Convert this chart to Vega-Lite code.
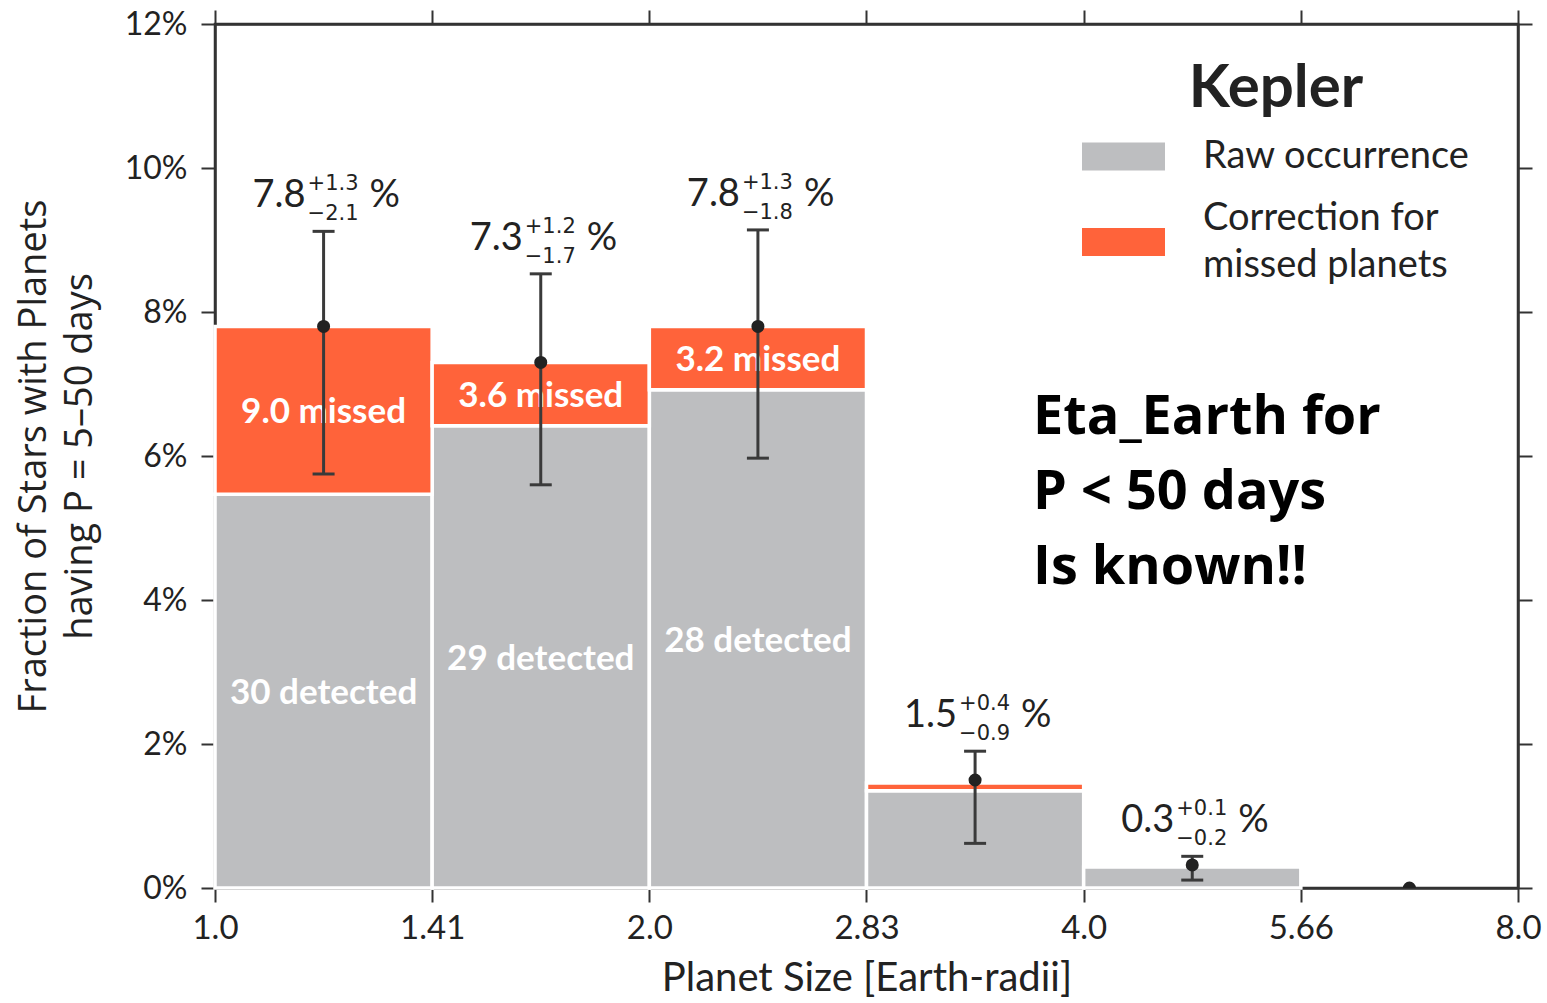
{
  "$schema": "https://vega.github.io/schema/vega-lite/v6.json",
  "width": 1303,
  "height": 864,
  "autosize": {"type": "none"},
  "padding": {"left": 215, "top": 24, "right": 29, "bottom": 115},
  "background": "white",
  "config": {
    "view": {"stroke": "#333333", "strokeWidth": 2.5},
    "font": "Lato",
    "style": {"guide-label": {"lineHeight": 47}},
    "legend": {
      "orient": "none", "legendX": 867, "legendY": 36, "padding": 0,
      "titleFontSize": 60, "titleFontWeight": "bold", "titleFont": "Lato",
      "titleColor": "#222222", "titleAnchor": "middle", "titlePadding": -5,
      "symbolSize": 6889, "symbolStrokeWidth": 0, "symbolOpacity": 1,
      "labelFontSize": 38, "labelFont": "Lato", "labelColor": "#222222", "labelOffset": 38,
      "labelLimit": 0, "labelBaseline": "middle", "rowPadding": 1
    },
    "axis": {
      "domainColor": "#333333", "domainWidth": 2.5,
      "tickColor": "#333333", "tickWidth": 2, "tickSize": 14,
      "labelColor": "#222222", "labelFontSize": 32, "labelFont": "Lato",
      "titleColor": "#222222", "titleFontWeight": "normal",
      "grid": false, "zindex": 1
    }
  },
  "datasets": {
    "bins": [
      {"lo": 1.0, "hi": 1.41421356, "c": 1.18920712, "raw": 5.47, "total": 7.8, "detected": "30 detected", "missed": "9.0 missed"},
      {"lo": 1.41421356, "hi": 2.0, "c": 1.68179283, "raw": 6.42, "total": 7.3, "detected": "29 detected", "missed": "3.6 missed"},
      {"lo": 2.0, "hi": 2.82842712, "c": 2.37841423, "raw": 6.92, "total": 7.8, "detected": "28 detected", "missed": "3.2 missed"},
      {"lo": 2.82842712, "hi": 4.0, "c": 3.36358566, "raw": 1.35, "total": 1.46, "detected": "", "missed": ""},
      {"lo": 4.0, "hi": 5.65685425, "c": 4.75682846, "raw": 0.29, "total": 0.29, "detected": "", "missed": ""},
      {"lo": 5.65685425, "hi": 8.0, "c": 6.72717132, "raw": 0, "total": 0, "detected": "", "missed": ""}
    ],
    "est": [
      {"c": 1.18920712, "val": 7.8, "elo": 5.75, "ehi": 9.12, "main": "7.8", "plus": "+1.3", "minus": "−2.1"},
      {"c": 1.68179283, "val": 7.3, "elo": 5.6, "ehi": 8.53, "main": "7.3", "plus": "+1.2", "minus": "−1.7"},
      {"c": 2.37841423, "val": 7.8, "elo": 5.97, "ehi": 9.14, "main": "7.8", "plus": "+1.3", "minus": "−1.8"},
      {"c": 3.36358566, "val": 1.5, "elo": 0.62, "ehi": 1.9, "main": "1.5", "plus": "+0.4", "minus": "−0.9"},
      {"c": 4.75682846, "val": 0.32, "elo": 0.11, "ehi": 0.44, "main": "0.3", "plus": "+0.1", "minus": "−0.2"},
      {"c": 6.72717132, "val": 0.0, "elo": null, "ehi": null, "main": "", "plus": "", "minus": ""}
    ],
    "legendItems": [
      {"comp": "Raw occurrence"},
      {"comp": "Correction for missed planets"}
    ]
  },
  "resolve": {"axis": {"x": "independent", "y": "independent"}},
  "layer": [
    {
      "layer": [
        {
          "data": {"name": "bins"},
          "transform": [{"filter": "datum.raw > 0"}],
          "mark": {"type": "bar", "stroke": "white", "strokeWidth": 3.5, "opacity": 1},
          "encoding": {
            "x": {"field": "lo", "type": "quantitative",
                  "scale": {"type": "log", "base": 2, "domain": [1, 8], "nice": false},
                  "axis": {"orient": "bottom", "values": [1, 1.41421356, 2, 2.82842712, 4, 5.65685425, 8],
                           "labelExpr": "datum.value < 1.2 ? '1.0' : datum.value < 1.7 ? '1.41' : datum.value < 2.4 ? '2.0' : datum.value < 3.4 ? '2.83' : datum.value < 4.8 ? '4.0' : datum.value < 6.8 ? '5.66' : '8.0'",
                           "labelFlush": false, "labelOverlap": false, "labelPadding": 10, "labelFontSize": 33,
                           "title": "Planet Size [Earth-radii]", "titleFontSize": 40, "titleFont": "Lato", "titlePadding": 13}},
            "x2": {"field": "hi"},
            "y": {"field": "raw", "type": "quantitative",
                  "scale": {"domain": [0, 12], "nice": false, "zero": true},
                  "axis": {"orient": "left", "values": [0, 2, 4, 6, 8, 10, 12],
                           "labelExpr": "datum.value + '%'", "labelPadding": 14,
                           "title": ["Fraction of Stars with Planets", "having P = 5–50 days"],
                           "titleFont": "Open Sans", "titleFontSize": 38, "titleLineHeight": 46,
                           "titleAngle": -90, "titleBaseline": "alphabetic", "titleAlign": "center",
                           "titleX": -170, "titleY": 432}},
            "y2": {"datum": 0},
            "color": {"datum": "Raw occurrence", "type": "nominal",
                      "scale": {"domain": ["Raw occurrence", "Correction for missed planets"], "range": ["#bdbec0", "#ff633a"]},
                      "legend": {"title": "Kepler",
                        "labelExpr": "datum.label == 'Correction for missed planets' ? ['Correction for', 'missed planets'] : datum.label"}}
          }
        },
        {
          "data": {"name": "bins"},
          "transform": [{"filter": "datum.total > datum.raw"}],
          "mark": {"type": "bar", "stroke": "white", "strokeWidth": 3.5, "opacity": 1},
          "encoding": {
            "x": {"field": "lo", "type": "quantitative"},
            "x2": {"field": "hi"},
            "y": {"field": "raw", "type": "quantitative"},
            "y2": {"field": "total"},
            "color": {"datum": "Correction for missed planets", "type": "nominal"}
          }
        },
        {
          "data": {"name": "legendItems"},
          "mark": {"type": "point", "filled": true, "opacity": 1, "size": 6889, "clip": true, "strokeWidth": 0},
          "encoding": {
            "x": {"datum": 2, "type": "quantitative"},
            "y": {"datum": -6, "type": "quantitative"},
            "color": {"field": "comp", "type": "nominal",
                      "legend": {"title": "Kepler",
                        "labelExpr": "datum.label == 'Correction for missed planets' ? ['Correction for', 'missed planets'] : datum.label"}},
            "shape": {"field": "comp", "type": "nominal",
                      "scale": {"domain": ["Raw occurrence", "Correction for missed planets"],
                                "range": ["M-1,-0.337L1,-0.337L1,0.337L-1,0.337Z", "M-1,0.229L1,0.229L1,0.903L-1,0.903Z"]},
                      "legend": {"title": "Kepler",
                        "labelExpr": "datum.label == 'Correction for missed planets' ? ['Correction for', 'missed planets'] : datum.label"}}
          }
        },
        {
          "data": {"name": "bins"},
          "transform": [{"filter": "datum.missed != ''"}, {"calculate": "(datum.raw + datum.total) / 2", "as": "mmid"}],
          "mark": {"type": "text", "font": "Lato", "fontWeight": "bold", "fontSize": 35, "color": "white", "baseline": "middle", "align": "center", "dy": 2},
          "encoding": {
            "x": {"field": "c", "type": "quantitative"},
            "y": {"field": "mmid", "type": "quantitative"},
            "text": {"field": "missed"}
          }
        },
        {
          "data": {"name": "bins"},
          "transform": [{"filter": "datum.detected != ''"}, {"calculate": "datum.raw / 2", "as": "dmid"}],
          "mark": {"type": "text", "font": "Lato", "fontWeight": "bold", "fontSize": 35, "color": "white", "baseline": "middle", "align": "center", "dy": 2},
          "encoding": {
            "x": {"field": "c", "type": "quantitative"},
            "y": {"field": "dmid", "type": "quantitative"},
            "text": {"field": "detected"}
          }
        },
        {
          "data": {"name": "est"},
          "transform": [{"filter": "datum.ehi != null"}],
          "mark": {"type": "rule", "color": "#3a3a3a", "strokeWidth": 3},
          "encoding": {
            "x": {"field": "c", "type": "quantitative"},
            "y": {"field": "elo", "type": "quantitative"},
            "y2": {"field": "ehi"}
          }
        },
        {
          "data": {"name": "est"},
          "transform": [{"filter": "datum.ehi != null"}],
          "mark": {"type": "tick", "orient": "horizontal", "color": "#3a3a3a", "size": 22, "thickness": 3, "opacity": 1},
          "encoding": {
            "x": {"field": "c", "type": "quantitative"},
            "y": {"field": "elo", "type": "quantitative"}
          }
        },
        {
          "data": {"name": "est"},
          "transform": [{"filter": "datum.ehi != null"}],
          "mark": {"type": "tick", "orient": "horizontal", "color": "#3a3a3a", "size": 22, "thickness": 3, "opacity": 1},
          "encoding": {
            "x": {"field": "c", "type": "quantitative"},
            "y": {"field": "ehi", "type": "quantitative"}
          }
        },
        {
          "data": {"name": "est"},
          "mark": {"type": "circle", "color": "#222222", "size": 170, "opacity": 1, "clip": true},
          "encoding": {
            "x": {"field": "c", "type": "quantitative"},
            "y": {"field": "val", "type": "quantitative"}
          }
        },
        {
          "data": {"name": "est"},
          "transform": [{"filter": "datum.ehi != null"}],
          "mark": {"type": "text", "font": "Lato", "fontSize": 38, "color": "#222222", "align": "right", "baseline": "alphabetic", "dx": -18, "dy": -24},
          "encoding": {
            "x": {"field": "c", "type": "quantitative"},
            "y": {"field": "ehi", "type": "quantitative"},
            "text": {"field": "main"}
          }
        },
        {
          "data": {"name": "est"},
          "transform": [{"filter": "datum.ehi != null"}],
          "mark": {"type": "text", "font": "DejaVu Sans", "fontSize": 21, "color": "#222222", "align": "left", "baseline": "alphabetic", "dx": -16, "dy": -41},
          "encoding": {
            "x": {"field": "c", "type": "quantitative"},
            "y": {"field": "ehi", "type": "quantitative"},
            "text": {"field": "plus"}
          }
        },
        {
          "data": {"name": "est"},
          "transform": [{"filter": "datum.ehi != null"}],
          "mark": {"type": "text", "font": "DejaVu Sans", "fontSize": 21, "color": "#222222", "align": "left", "baseline": "alphabetic", "dx": -16, "dy": -11},
          "encoding": {
            "x": {"field": "c", "type": "quantitative"},
            "y": {"field": "ehi", "type": "quantitative"},
            "text": {"field": "minus"}
          }
        },
        {
          "data": {"name": "est"},
          "transform": [{"filter": "datum.ehi != null"}],
          "mark": {"type": "text", "font": "Lato", "fontSize": 38, "color": "#222222", "align": "left", "baseline": "alphabetic", "dx": 46, "dy": -24, "text": "%"},
          "encoding": {
            "x": {"field": "c", "type": "quantitative"},
            "y": {"field": "ehi", "type": "quantitative"}
          }
        },
        {
          "data": {"values": [{}]},
          "mark": {"type": "text", "font": "Open Sans", "fontWeight": "bold", "fontSize": 54, "color": "#000000", "align": "left", "baseline": "alphabetic", "lineHeight": 75,
                   "text": ["Eta_Earth for", "P < 50 days", "Is known!!"]},
          "encoding": {
            "x": {"datum": 3.69, "type": "quantitative"},
            "y": {"datum": 6.3, "type": "quantitative"}
          }
        }
      ]
    },
    {
      "data": {"name": "est"},
      "mark": {"type": "point", "opacity": 0},
      "encoding": {
        "x": {"field": "c", "type": "quantitative",
              "scale": {"type": "log", "base": 2, "domain": [1, 8], "nice": false},
              "axis": {"orient": "top", "values": [1, 1.41421356, 2, 2.82842712, 4, 5.65685425, 8], "labels": false, "title": null}},
        "y": {"field": "val", "type": "quantitative",
              "scale": {"domain": [0, 12], "nice": false},
              "axis": {"orient": "right", "values": [0, 2, 4, 6, 8, 10, 12], "labels": false, "title": null}}
      }
    }
  ]
}
